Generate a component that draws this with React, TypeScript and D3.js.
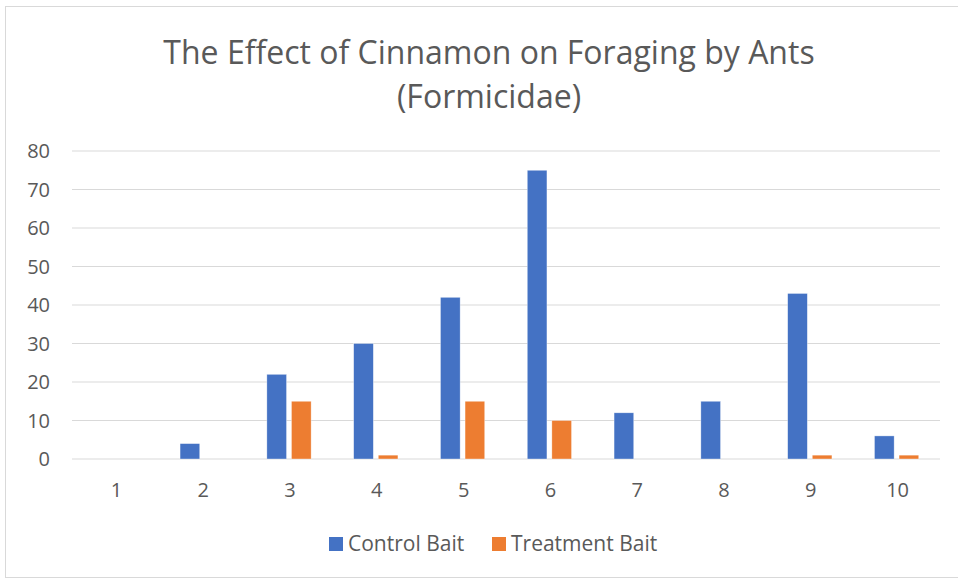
import React from 'react';
import * as d3 from 'd3';

const categories = ['1', '2', '3', '4', '5', '6', '7', '8', '9', '10'];
const controlBait = [0, 4, 22, 30, 42, 75, 12, 15, 43, 6];
const treatmentBait = [0, 0, 15, 1, 15, 10, 0, 0, 1, 1];
const seriesNames = ['Control Bait', 'Treatment Bait'];
const seriesColors = ['#4472C4', '#ED7D31'];
const yTicks = [0, 10, 20, 30, 40, 50, 60, 70, 80];
const titleLines = ['The Effect of Cinnamon on Foraging by Ants', '(Formicidae)'];

const App = () => {
    const width = 958;
    const height = 580;
    const margin = { top: 151, right: 18, bottom: 121, left: 72 };
    const font = '"Open Sans", sans-serif';
    const textColor = '#595959';

    const x = d3
        .scaleBand()
        .domain(categories)
        .range([margin.left, width - margin.right])
        .padding(0);

    const y = d3
        .scaleLinear()
        .domain([0, 80])
        .range([height - margin.bottom, margin.top]);

    // the two bars sit in the middle half of each category
    const groupWidth = x.bandwidth() * 0.51;
    const inner = d3
        .scaleBand()
        .domain(seriesNames)
        .range([(x.bandwidth() - groupWidth) / 2, (x.bandwidth() + groupWidth) / 2])
        .paddingInner(0.2);

    const series = [controlBait, treatmentBait];

    return (
        <svg width={width} height={height} style={{ position: 'absolute', left: 0, top: 0 }}>
            <rect x={0} y={0} width={width} height={height} fill="#fff" />
            <rect x={5.5} y={6.5} width={width} height={571} fill="none" stroke="#D9D9D9" />

            {titleLines.map((t, i) => (
                <text
                    key={t}
                    x={489}
                    y={64 + i * 44}
                    textAnchor="middle"
                    fontFamily={font}
                    fontSize={32}
                    fill={textColor}
                >
                    {t}
                </text>
            ))}

            {/* grid lines */}
            <g>
                {yTicks.map((t) => (
                    <line
                        key={t}
                        x1={margin.left}
                        x2={width - margin.right}
                        y1={y(t)}
                        y2={y(t)}
                        stroke="#D9D9D9"
                        strokeWidth={1.2}
                    />
                ))}
            </g>

            {/* y labels */}
            <g>
                {yTicks.map((t) => (
                    <text
                        key={t}
                        x={50}
                        y={y(t)}
                        dy="0.36em"
                        textAnchor="end"
                        fontFamily={font}
                        fontSize={20}
                        fill={textColor}
                    >
                        {t}
                    </text>
                ))}
            </g>

            {/* bars */}
            {series.map((vals, si) => (
                <g key={seriesNames[si]}>
                    {vals.map((v, ci) => (
                        <rect
                            key={ci}
                            x={(x(categories[ci]) ?? 0) + (inner(seriesNames[si]) ?? 0)}
                            y={y(v)}
                            width={inner.bandwidth()}
                            height={y(0) - y(v)}
                            fill={seriesColors[si]}
                            stroke="#fff"
                            strokeWidth={0.6}
                            strokeOpacity={0.6}
                        />
                    ))}
                </g>
            ))}

            {/* x labels */}
            <g>
                {categories.map((c) => (
                    <text
                        key={c}
                        x={(x(c) ?? 0) + x.bandwidth() / 2 + 1}
                        y={490}
                        dy="0.36em"
                        textAnchor="middle"
                        fontFamily={font}
                        fontSize={20}
                        fill={textColor}
                    >
                        {c}
                    </text>
                ))}
            </g>

            {/* legend */}
            <g>
                {seriesNames.map((name, i) => {
                    const lx = i === 0 ? 329 : 492;
                    return (
                        <g key={name}>
                            <rect x={lx} y={537} width={14} height={14} fill={seriesColors[i]} />
                            <text
                                x={lx + 19}
                                y={543}
                                dy="0.36em"
                                fontFamily={font}
                                fontSize={21}
                                fill={textColor}
                            >
                                {name}
                            </text>
                        </g>
                    );
                })}
            </g>
        </svg>
    );
};

export default App;
